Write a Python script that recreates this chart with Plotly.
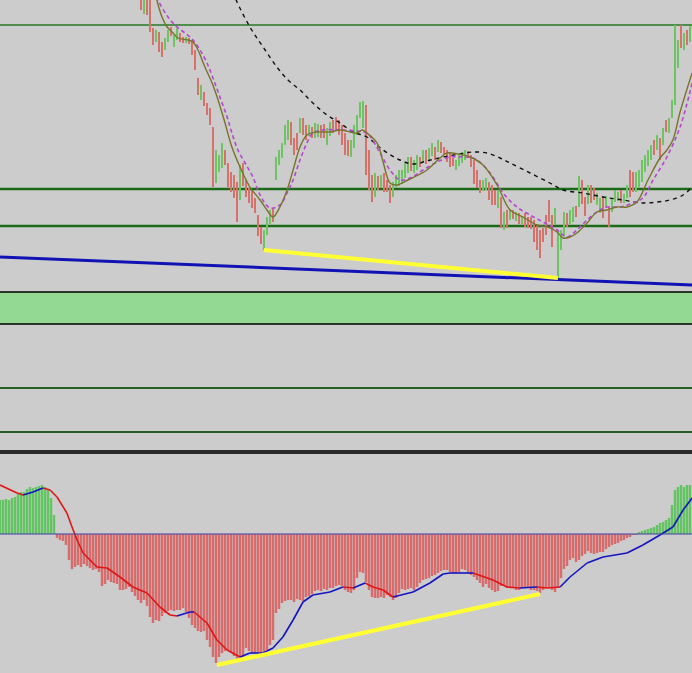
import plotly.graph_objects as go

# ---------------- data ----------------
# price bars: bar number k = bar_start + i
bar_start = 47
bar_high = [460,455,458,450,422,420,418,408,412,420,
            423,415,422,417,413,413,412,410,400,372,
            365,358,347,342,323,300,295,307,300,287,
            278,275,268,285,287,270,262,260,252,235,
            223,220,233,240,242,293,300,307,325,330,
            328,312,317,332,332,325,325,323,327,326,
            325,326,322,328,330,333,330,325,317,310,
            310,325,335,348,349,345,300,275,277,274,
            275,277,270,265,268,275,280,280,287,293,
            293,290,295,293,300,300,302,307,303,310,
            308,303,300,297,292,290,295,298,300,299,
            295,290,280,270,270,272,268,265,260,260,
            253,238,240,241,240,238,237,234,237,233,
            233,230,224,220,222,235,250,235,242,220,
            220,238,237,240,243,244,274,270,253,265,
            265,262,257,252,253,254,243,251,260,258,
            260,256,265,280,278,278,280,290,295,300,
            305,310,315,312,322,330,332,350,425,410,
            425,417,420,424]
bar_low = [440,436,435,418,405,408,398,393,400,408,
           414,403,410,408,407,407,406,395,380,355,
           350,344,335,325,263,267,278,282,285,263,
           258,252,228,250,264,253,247,242,237,214,
           206,200,215,226,228,270,285,292,305,310,
           305,295,300,317,315,310,314,312,312,313,
           312,312,305,314,317,320,315,305,295,294,
           293,302,315,332,322,275,260,248,253,260,
           262,258,258,247,253,263,264,266,272,277,
           279,277,280,283,288,286,290,294,290,298,
           297,296,288,283,284,280,284,287,290,292,
           283,266,262,257,259,260,250,245,245,242,
           222,220,222,230,231,229,226,226,223,222,
           221,208,200,192,208,215,228,203,225,172,
           200,214,223,226,228,233,243,246,234,246,
           247,250,245,237,232,242,223,238,248,249,
           247,247,252,253,258,258,263,268,278,284,
           290,295,300,290,305,318,317,332,345,382,
           402,400,405,408]
bar_dir = ("RGRRRGRRGG" "RGGRRGRRRR" "GRRRRGGGRR" "RRRGRRRRRR" "RGGGRGGGGG"
           "RRRGRRGRGG" "RRGGRRRRRR" "GGGGGRRRGR" "GRRRGGGGGG" "RGGRGRGGRG"
           "RRRRRGGGGR" "RRRRGGRRRG" "RGRGRGRGRR" "RRRRRRRRGG" "GGRGGRGRRG"
           "RRGGRGRGGG" "RGGRRGGGGG" "GRGRGRGGGG" "RGRG")

# moving averages (bar number, price)
ma_fast_k = [51.3,52.3,54,55.7,57.7,59.3,62.7,64.3,66,68.3,70.7,72.7,75,77.3,80,83.3,86.7,89,91,
             93.3,95.7,97.7,100,102.3,105.7,110,113.3,116.7,119,120.7,122.3,125.7,127.7,130,132.3,
             136,142.3,146.7,149,154.3,156.7,161,165.7,170,174.3,179,182.7,185.7,187.7,190,192.3,
             195.7,199,202.3,205.7,209,212.3,216,220,222.3,224.3,226.7,230.7]
ma_fast_p = [465,450,433,423,417,412,410,408,400,383,367,350,327,303,283,263,250,240,233,
             243,260,280,303,315,318,318,320,318,317,320,317,307,288,267,265,
             270,280,292,297,295,293,285,265,240,233,225,223,218,212,213,217,
             227,238,240,243,243,248,270,292,300,310,338,377]
ma_slow_k = [51.7,52.7,56,59,61.7,64.3,66.7,69,71,73.3,75.7,77.3,79.3,81.7,84.3,86.7,90,93.3,95.7,
             97.7,100,102.3,104.3,107.7,113.3,119,122.3,126.7,130,133.3,136.7,141,145.7,150,154.3,
             157.7,161,164.3,167.7,172.3,176.7,181,185.7,189,192.3,195.7,199,202.3,206.7,211,
             214.3,217.7,222.3,226.7,230.7]
ma_slow_p = [460,450,433,423,417,410,400,387,372,353,333,317,300,287,273,255,242,245,257,
             270,290,307,317,320,320,319,317,297,280,270,272,280,288,293,293,
             292,285,273,257,243,235,228,220,213,220,230,238,243,243,247,
             252,270,293,323,367]
ma_long_k = [77.7,78.7,83.3,87.7,92.3,96,100,104.3,109,113.3,117.7,122.3,127.7,133.3,137.7,142.3,
             147.7,153.3,157.7,162.3,166.7,170,176.7,183.3,187.7,194.3,201,207.7,214.3,219,223.3,
             227.7,230.7]
ma_long_p = [458,450,423,403,383,370,360,347,335,327,318,313,300,290,286,289,
             293,296,298,297,292,287,277,267,260,257,253,250,247,248,250,
             255,263]

# oscillator histogram, bar number k = 0..230
osc = [34,34,35,34,36,37,40,42,42,45,47,46,47,48,49,47,44,36,19,
       -4,-6,-7,-11,-26,-35,-33,-31,-33,-30,-32,-34,-36,-35,-38,-52,-50,-46,-48,-49,-50,
       -56,-56,-55,-53,-58,-62,-66,-69,-66,-72,
       -83,-89,-86,-87,-82,-79,-77,-76,-77,-76,
       -76,-74,-78,-84,-91,-94,-97,-98,-97,-106,
       -113,-123,-129,-123,-119,-117,-116,-118,-122,-126,
       -126,-123,-114,-117,-119,-119,-118,-119,-119,-116,
       -111,-106,-79,-75,-69,-67,-66,-66,-68,-65,
       -66,-67,-63,-62,-60,-57,-56,-57,-55,-56,
       -54,-54,-52,-51,-52,-56,-58,-59,-56,-44,
       -38,-39,-48,-56,-63,-64,-64,-63,-64,-61,
       -63,-66,-64,-59,-55,-56,-55,-54,-56,-53,
       -49,-46,-45,-44,-42,-41,-39,-37,-36,-36,
       -38,-39,-39,-38,-35,-36,-39,-41,-43,-46,
       -49,-53,-50,-54,-56,-58,-57,-52,-52,-54,
       -54,-53,-56,-56,-54,-53,-54,-56,-56,-57,
       -59,-56,-54,-54,-56,-58,-54,-44,-35,-32,
       -26,-24,-28,-26,-22,-20,-17,-19,-20,-19,
       -18,-18,-15,-13,-11,-10,-9,-7,-6,-4,
       -3,-1,-1,2,3,4,5,6,7,9,
       11,12,14,16,29,44,47,49,47,49,
       49]

# oscillator signal line and direction of each segment
sig_k = [0,5.7,7.7,11,14.3,16.7,19,22.3,24,25.7,27.7,32.3,35.7,40,44.3,49,53.3,56.7,59,63.3,
         64.7,69,72.3,75.7,80,83.3,87.7,91,94.3,97.7,101,104.3,110,114.3,117.7,121.7,124.3,
         127.7,131,137.7,143.3,147.7,150,157.7,164.3,169,173.3,179,182.3,186.7,190,195.7,201,
         209,214.3,220,224.3,227.7,230.7]
sig_v = [49,41,39,42,46,44,37,21,7,-6,-19,-33,-34,-43,-53,-59,-73,-81,-82,-78,
         -78,-89,-106,-116,-123,-119,-119,-114,-103,-86,-68,-61,-58,-53,-54,-49,-53,
         -56,-63,-58,-49,-40,-39,-39,-46,-53,-54,-53,-54,-53,-43,-29,-23,
         -19,-11,-1,7,24,36]
sig_dir = "RRBBRRRRRR" "RRRRRRRRBB" "RRRRBBBBBB" "BBBRBRRRBB" "BBBRRRBRRB" "BBBBBBBB"

# price levels and zone
levels = [425, 261, 224, 62, 18]
zone = [126, 158]

# trend lines
blue_k, blue_p = [0, 230.67], [193, 165]
yel_k, yel_p = [88, 186], [200, 172]
osc_tr_k, osc_tr_v = [72.3, 180], [-131, -60]

# ---------------- styles ----------------
BG = "#cccccc"
C_UP, C_DN = "#6cc463", "#d9716b"
H_UP, H_DN = "#62c462", "#d86c6c"
level_styles = [("#267a26", 1.4), ("#1a6a1a", 2.6), ("#1a6a1a", 2.6),
                ("#245e24", 2.2), ("#245e24", 2.2)]

fig = go.Figure()

# price bars
ks = [bar_start + i for i in range(len(bar_high))]
fig.add_trace(go.Bar(
    x=ks, base=bar_low, y=[h - l for h, l in zip(bar_high, bar_low)],
    width=0.55, marker=dict(color=[C_UP if d == "G" else C_DN for d in bar_dir], line=dict(width=0)),
    xaxis="x", yaxis="y", hoverinfo="skip"))

# moving averages
fig.add_trace(go.Scatter(x=ma_long_k, y=ma_long_p, mode="lines",
                         line=dict(color="#111111", width=1.4, dash="4px,4px", shape="spline")))
fig.add_trace(go.Scatter(x=ma_slow_k, y=ma_slow_p, mode="lines",
                         line=dict(color="#b845d0", width=1.6, dash="4px,3px", shape="spline")))
fig.add_trace(go.Scatter(x=ma_fast_k, y=ma_fast_p, mode="lines",
                         line=dict(color="#77742a", width=1.4, shape="spline")))

# trend lines on price
fig.add_trace(go.Scatter(x=blue_k, y=blue_p, mode="lines", line=dict(color="#1212b4", width=3)))
fig.add_trace(go.Scatter(x=yel_k, y=yel_p, mode="lines", line=dict(color="#ffff33", width=4)))

# oscillator histogram
fig.add_trace(go.Bar(
    x=list(range(len(osc))), y=osc, width=0.82,
    marker=dict(color=[H_UP if v >= 0 else H_DN for v in osc], line=dict(width=0)),
    xaxis="x", yaxis="y2", hoverinfo="skip"))

# signal line, coloured by direction
seg = {"R": ([], []), "B": ([], [])}
for j, c in enumerate(sig_dir):
    seg[c][0].extend([sig_k[j], sig_k[j + 1], None])
    seg[c][1].extend([sig_v[j], sig_v[j + 1], None])
fig.add_trace(go.Scatter(x=seg["R"][0], y=seg["R"][1], mode="lines", yaxis="y2",
                         line=dict(color="#e01515", width=1.6)))
fig.add_trace(go.Scatter(x=seg["B"][0], y=seg["B"][1], mode="lines", yaxis="y2",
                         line=dict(color="#1414c0", width=1.6)))
fig.add_trace(go.Scatter(x=osc_tr_k, y=osc_tr_v, mode="lines", yaxis="y2",
                         line=dict(color="#ffff33", width=4)))

shapes = []
# zone band (fill + top/bottom edges)
shapes.append(dict(type="rect", xref="paper", x0=0, x1=1, yref="y", y0=zone[0], y1=zone[1],
                   fillcolor="#93d993", line=dict(width=0), layer="below"))
for zb in zone:
    shapes.append(dict(type="line", xref="paper", x0=0, x1=1, yref="y", y0=zb, y1=zb,
                       line=dict(color="#000000", width=1.3), layer="below"))
for lv, (col, w) in zip(levels, level_styles):
    shapes.append(dict(type="line", xref="paper", x0=0, x1=1, yref="y", y0=lv, y1=lv,
                       line=dict(color=col, width=w), layer="below"))
# oscillator zero line
shapes.append(dict(type="line", xref="paper", x0=0, x1=1, yref="y2", y0=0, y1=0,
                   line=dict(color="#4040a8", width=1.2)))
# panel separator
shapes.append(dict(type="line", xref="paper", x0=0, x1=1, yref="paper",
                   y0=(673 - 452) / 673, y1=(673 - 452) / 673,
                   line=dict(color="#2a2a2a", width=4)))

fig.update_layout(
    width=692, height=673, margin=dict(l=0, r=0, t=0, b=0),
    paper_bgcolor=BG, plot_bgcolor=BG, showlegend=False, barmode="overlay",
    xaxis=dict(range=[0, 692 / 3], visible=False, showgrid=False, zeroline=False),
    yaxis=dict(domain=[(673 - 450) / 673, 1], range=[0, 450], visible=False,
               showgrid=False, zeroline=False),
    yaxis2=dict(domain=[0, (673 - 454) / 673], range=[-139, 80], visible=False,
                showgrid=False, zeroline=False, anchor="x"),
    shapes=shapes,
)

fig.write_html(
    "out.html",
    config={"displayModeBar": False},
    post_script="document.body.style.margin='0';document.body.style.overflow='hidden';"
                "document.documentElement.style.background='#cccccc';",
)
